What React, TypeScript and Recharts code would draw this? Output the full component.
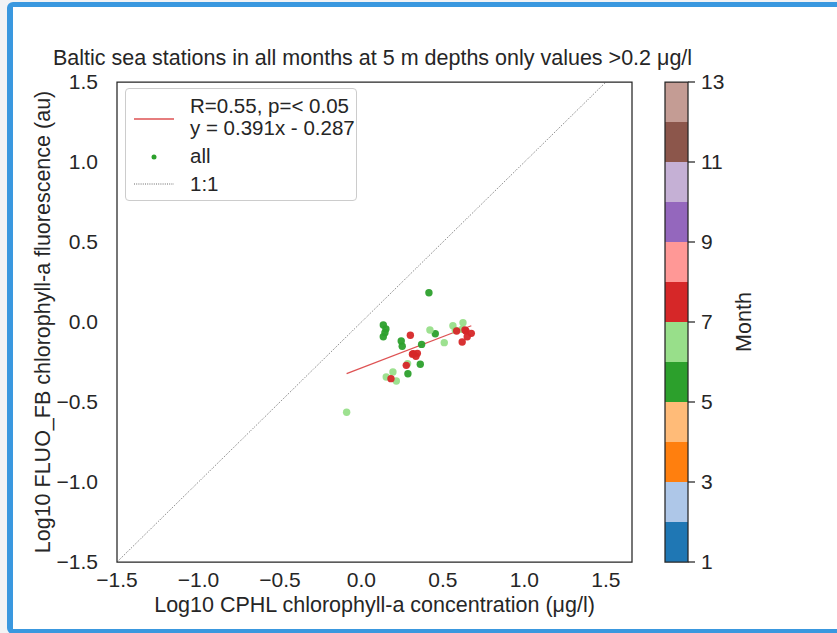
import React from "react";
import {
  ScatterChart,
  Scatter,
  XAxis,
  YAxis,
  ReferenceLine,
  ReferenceArea,
  Legend,
} from "recharts";

const FONT = '"Liberation Sans", Arial, sans-serif';
const INK = "#262626";

// log10 CPHL (x) vs log10 FLUO_FB (y), grouped by month
const may = [
  [0.414, 0.183], [0.134, -0.019], [0.15, -0.044], [0.144, -0.067],
  [0.134, -0.092], [0.453, -0.073], [0.244, -0.119], [0.25, -0.152],
  [0.369, -0.14], [0.361, -0.264], [0.285, -0.323],
];
const june = [
  [0.42, -0.05], [0.283, -0.26], [0.193, -0.312], [0.152, -0.344],
  [0.214, -0.369], [-0.091, -0.564], [0.508, -0.129], [0.561, -0.023],
  [0.623, -0.004], [0.576, -0.052], [0.616, -0.046],
];
const july = [
  [0.3, -0.083], [0.318, -0.198], [0.343, -0.196], [0.334, -0.214],
  [0.313, -0.201], [0.275, -0.271], [0.181, -0.354], [0.584, -0.056],
  [0.635, -0.05], [0.641, -0.056], [0.674, -0.071], [0.649, -0.092],
  [0.618, -0.125],
];

const slope = 0.391;
const intercept = -0.287;

const axisTicks = [-1.5, -1, -0.5, 0, 0.5, 1, 1.5];
const monthBins = [1, 2, 3, 4, 5, 6, 7, 8, 9, 10, 11, 12];
const monthColors = [
  "#1f77b4", "#aec7e8", "#ff7f0e", "#ffbb78", "#2ca02c", "#98df8a",
  "#d62728", "#ff9896", "#9467bd", "#c5b0d5", "#8c564b", "#c49c94",
];
const colorbarTicks = [1, 3, 5, 7, 9, 11, 13];

const groups = [
  { month: 5, points: may },
  { month: 6, points: june },
  { month: 7, points: july },
];

const toXY = (pts: number[][]) => pts.map(([x, y]) => ({ x, y }));

const allX = [...may, ...june, ...july].map((p) => p[0]);
const fitLine = [Math.min(...allX), Math.max(...allX)].map((x) => ({
  x,
  y: slope * x + intercept,
}));

const fmt = (v: number) => v.toFixed(1).replace("-", "\u2212");
const tickStyle = { fill: INK, fontSize: 21, fontFamily: FONT };

const LegendBox = () => (
  <div
    style={{
      position: "relative",
      width: 232,
      height: 113,
      boxSizing: "border-box",
      border: "1px solid #cccccc",
      borderRadius: 4,
      background: "rgba(255,255,255,0.8)",
      fontFamily: FONT,
      fontSize: 20.5,
      color: INK,
      lineHeight: "22px",
      whiteSpace: "nowrap",
    }}
  >
    <svg width={232} height={113} style={{ position: "absolute", left: 0, top: 0 }}>
      <line x1={8} x2={48} y1={30} y2={30} stroke="#d62728" strokeOpacity={0.8} strokeWidth={1.3} />
      <circle cx={28} cy={68} r={2.5} fill="#2ca02c" />
      <line x1={8} x2={48} y1={95} y2={95} stroke="#444" strokeWidth={0.8} strokeDasharray="1 1.2" />
    </svg>
    <div style={{ position: "absolute", left: 64, top: 6 }}>R=0.55, p=&lt; 0.05</div>
    <div style={{ position: "absolute", left: 64, top: 28 }}>y = 0.391x - 0.287</div>
    <div style={{ position: "absolute", left: 64, top: 56 }}>all</div>
    <div style={{ position: "absolute", left: 64, top: 84 }}>1:1</div>
  </div>
);

export default function App() {
  return (
    <div
      style={{
        position: "absolute",
        left: 0,
        top: 0,
        width: 837,
        height: 633,
        overflow: "hidden",
        background: "#f2f3f5",
      }}
    >
      <div
        style={{
          position: "absolute",
          left: 7,
          top: 2,
          width: 860,
          height: 632,
          boxSizing: "border-box",
          border: "5px solid #3a98df",
          borderLeftWidth: 6,
          borderRadius: 6,
          background: "#ffffff",
        }}
      />
      <div
        style={{
          position: "absolute",
          left: 0,
          top: 47,
          width: 745,
          textAlign: "center",
          fontFamily: FONT,
          fontSize: 21.5,
          lineHeight: "22px",
          color: INK,
          whiteSpace: "nowrap",
        }}
      >
        Baltic sea stations in all months at 5 m depths only values &gt;0.2 μg/l
      </div>

      <div style={{ position: "absolute", left: 0, top: 0 }}>
        <ScatterChart
          width={837}
          height={633}
          margin={{ top: 82, right: 205, bottom: 16, left: 27 }}
        >
          <XAxis
            type="number"
            dataKey="x"
            domain={[-1.5, 1.66]}
            ticks={axisTicks}
            allowDataOverflow
            height={55}
            axisLine={false}
            tickLine={false}
            tickSize={0}
            tickMargin={10}
            tick={tickStyle}
            tickFormatter={fmt}
            label={{
              value: "Log10 CPHL chlorophyll-a concentration (μg/l)",
              position: "insideBottom",
              offset: 5,
              fill: INK,
              fontSize: 21.5,
              fontFamily: FONT,
            }}
          />
          <YAxis
            type="number"
            dataKey="y"
            domain={[-1.5, 1.5]}
            ticks={axisTicks}
            allowDataOverflow
            width={90}
            axisLine={false}
            tickLine={false}
            tickSize={0}
            tickMargin={19}
            tick={tickStyle}
            tickFormatter={fmt}
            label={{
              value: "Log10 FLUO_FB chlorophyll-a fluorescence (au)",
              angle: -90,
              position: "insideLeft",
              offset: 15,
              fill: INK,
              fontSize: 21.5,
              fontFamily: FONT,
              style: { textAnchor: "middle" },
            }}
          />
          <ReferenceLine
            segment={[
              { x: -1.5, y: -1.5 },
              { x: 1.5, y: 1.5 },
            ]}
            stroke="#444"
            strokeWidth={0.8}
            strokeDasharray="1 1.5"
          />
          <Scatter
            data={fitLine}
            line={{ stroke: "#d62728", strokeOpacity: 0.8, strokeWidth: 1.3 }}
            shape={() => <g />}
            isAnimationActive={false}
          />
          {groups.map((g) => (
            <Scatter
              key={g.month}
              data={toXY(g.points)}
              isAnimationActive={false}
              shape={(p: any) => (
                <circle cx={p.cx} cy={p.cy} r={3.7} fill={monthColors[g.month - 1]} fillOpacity={0.95} />
              )}
            />
          ))}
          <ReferenceArea
            x1={-1.5}
            x2={1.66}
            y1={-1.5}
            y2={1.5}
            fill="none"
            stroke={INK}
            strokeWidth={1.25}
          />
          <Legend
            layout="vertical"
            align="center"
            verticalAlign="middle"
            wrapperStyle={{ left: 125, top: 88, width: 232, height: 113 }}
            content={() => <LegendBox />}
          />
        </ScatterChart>
      </div>

      <div style={{ position: "absolute", left: 600, top: 0 }}>
        <ScatterChart
          width={200}
          height={633}
          margin={{ top: 82, right: 42, bottom: 71, left: 65 }}
        >
          <XAxis type="number" dataKey="x" domain={[0, 1]} hide />
          <YAxis
            type="number"
            dataKey="y"
            orientation="right"
            domain={[1, 13]}
            ticks={colorbarTicks}
            width={70}
            axisLine={false}
            tickSize={7}
            tickLine={{ stroke: INK, strokeWidth: 1.25 }}
            tickMargin={6}
            tick={tickStyle}
            label={{
              value: "Month",
              angle: -90,
              position: "insideRight",
              offset: 15,
              fill: INK,
              fontSize: 21.5,
              fontFamily: FONT,
              style: { textAnchor: "middle" },
            }}
          />
          <Scatter
            data={monthBins.map((m) => ({ x: 0.5, y: m + 0.5 }))}
            isAnimationActive={false}
            shape={() => <g />}
          />
          {monthBins.map((m, i) => (
            <ReferenceArea
              key={m}
              x1={0}
              x2={1}
              y1={m}
              y2={m + 1}
              fill={monthColors[i]}
              fillOpacity={1}
              stroke="none"
            />
          ))}
          <ReferenceArea
            x1={0}
            x2={1}
            y1={1}
            y2={13}
            fill="none"
            stroke={INK}
            strokeWidth={1.25}
          />
        </ScatterChart>
      </div>
    </div>
  );
}
